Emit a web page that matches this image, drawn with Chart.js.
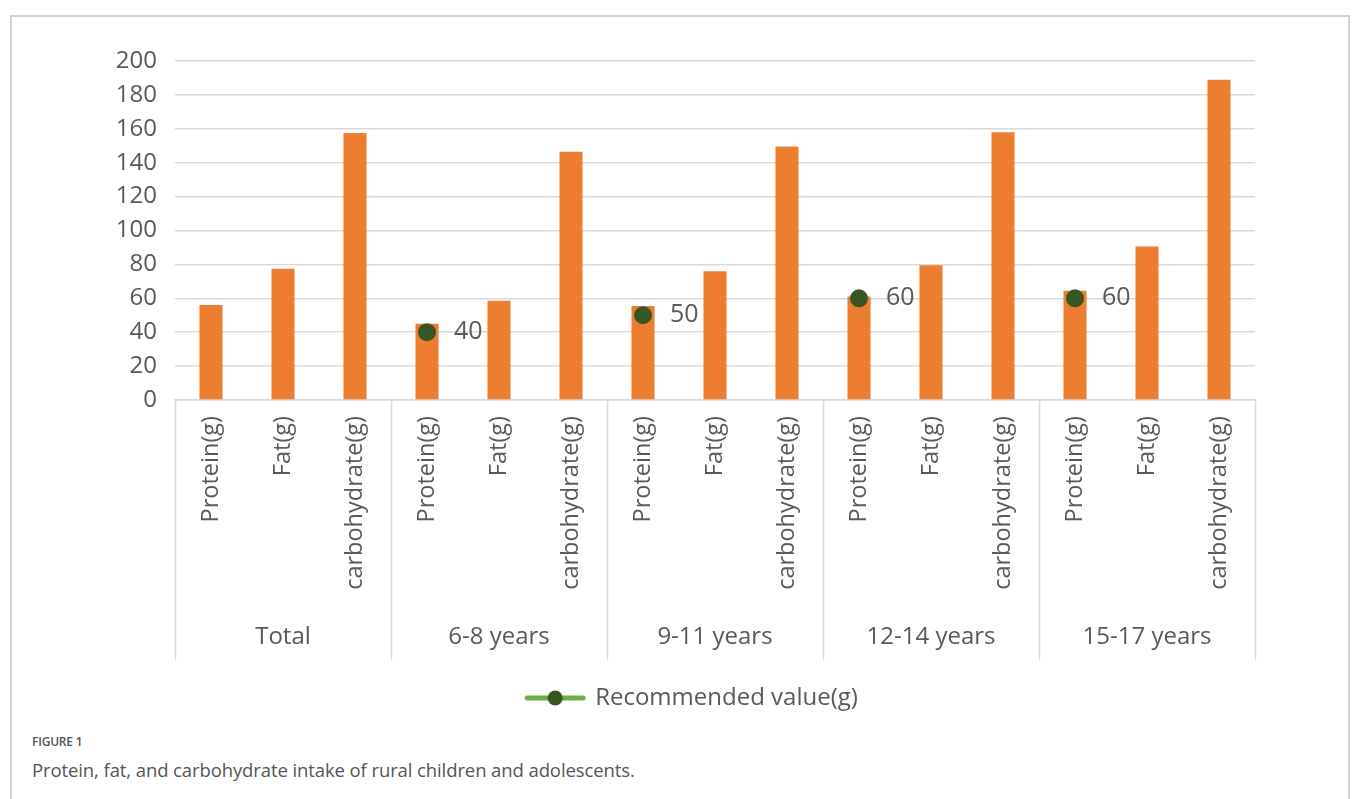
<!DOCTYPE html>
<html>
<head>
<meta charset="utf-8">
<script src="https://cdn.jsdelivr.net/npm/chart.js@4.4.1/dist/chart.umd.min.js"></script>
<style>
  body { margin: 0; background: #fff; font-family: "Open Sans", sans-serif; }
  #frame { position: absolute; left: 10px; top: 15px; width: 1336px; height: 820px; border: 2px solid #d0d0d0; }
  #chart { position: absolute; left: 0; top: 0; }
  #figno { position: absolute; left: 32px; top: 733px; font-size: 12px; font-weight: 600; color: #555; letter-spacing: -0.2px; }
  #caption { position: absolute; left: 32px; top: 757px; font-size: 18.5px; color: #555; letter-spacing: -0.1px; }
</style>
</head>
<body>
<div id="frame"></div>
<canvas id="chart" width="1358" height="730"></canvas>
<div id="figno">FIGURE 1</div>
<div id="caption">Protein, fat, and carbohydrate intake of rural children and adolescents.</div>
<script>
/* *****
datos del grafico
***** */
const groups = ['Total', '6-8 years', '9-11 years', '12-14 years', '15-17 years'];
const nutrients = ['Protein(g)', 'Fat(g)', 'carbohydrate(g)'];
const intake = [56, 77.5, 157.5, 45, 58.5, 146.5, 55.5, 76, 149.5, 61, 79.5, 158, 64.5, 90.5, 189];
const recommended = [null, null, null, 40, null, null, 50, null, null, 60, null, null, 60, null, null];
const yTicks = { min: 0, max: 200, step: 20 };

const labels = [];
groups.forEach(() => nutrients.forEach((n) => labels.push(n)));

const gray = '#595959';
const gridColor = '#d9d9d9';
const fontFamily = '"Open Sans", sans-serif';

// simbolo de la leyenda: linea verde con punto (desplazado a la derecha dentro del lienzo)
const legendIcon = document.createElement('canvas');
legendIcon.width = 200;
legendIcon.height = 18;
(() => {
    const c = legendIcon.getContext('2d');
    const cx = 165;
    c.strokeStyle = '#70AD47';
    c.lineWidth = 5;
    c.lineCap = 'round';
    c.beginPath();
    c.moveTo(cx - 28, 9);
    c.lineTo(cx + 28, 9);
    c.stroke();
    c.fillStyle = '#375623';
    c.beginPath();
    c.arc(cx, 9, 7.5, 0, Math.PI * 2);
    c.fill();
})();

// separadores y nombres de grupo bajo el eje x
const groupPlugin = {
    id: 'groupPlugin',
    afterDraw(chart) {
        const { ctx, chartArea } = chart;
        const x = chart.scales.x;
        const half = x.width / labels.length / 2;
        ctx.save();
        ctx.strokeStyle = gridColor;
        ctx.lineWidth = 1.5;
        for (let g = 0; g <= groups.length; g++) {
            const px = g < groups.length ? x.getPixelForValue(g * 3) - half : x.getPixelForValue(g * 3 - 1) + half;
            ctx.beginPath();
            ctx.moveTo(Math.round(px) + 0.5, chartArea.bottom);
            ctx.lineTo(Math.round(px) + 0.5, chartArea.bottom + 260);
            ctx.stroke();
        }
        ctx.fillStyle = gray;
        ctx.font = `24px ${fontFamily}`;
        ctx.textAlign = 'center';
        ctx.textBaseline = 'middle';
        groups.forEach((g, i) => {
            ctx.fillText(g, x.getPixelForValue(i * 3 + 1), chartArea.bottom + 237);
        });
        ctx.restore();
    }
};

// etiquetas de valor a la derecha de los puntos
const pointLabels = {
    id: 'pointLabels',
    afterDatasetsDraw(chart) {
        const { ctx } = chart;
        const meta = chart.getDatasetMeta(1);
        ctx.save();
        ctx.fillStyle = gray;
        ctx.font = `25px ${fontFamily}`;
        ctx.textAlign = 'left';
        ctx.textBaseline = 'middle';
        meta.data.forEach((pt, i) => {
            if (recommended[i] === null) return;
            ctx.fillText(recommended[i], pt.x + 27, pt.y);
        });
        ctx.restore();
    }
};

new Chart(document.getElementById('chart'), {
    type: 'bar',
    data: {
        labels: labels,
        datasets: [
            {
                label: 'Intake',
                data: intake,
                backgroundColor: '#ED7D31',
                categoryPercentage: 1,
                barPercentage: 0.32,
                order: 1
            },
            {
                type: 'line',
                label: 'Recommended value(g)',
                data: recommended,
                borderColor: '#70AD47',
                borderWidth: 4,
                spanGaps: false,
                pointRadius: 7,
                pointHoverRadius: 7,
                pointBackgroundColor: '#375623',
                pointBorderColor: '#375623',
                order: 0
            }
        ]
    },
    options: {
        responsive: false,
        animation: false,
        layout: { padding: { left: 0, top: 61, right: 103, bottom: 10 } },
        plugins: {
            tooltip: { enabled: false },
            legend: {
                position: 'bottom',
                labels: {
                    filter: (item) => item.datasetIndex === 1,
                    usePointStyle: true,
                    pointStyle: legendIcon,
                    pointStyleWidth: 186,
                    boxHeight: 16,
                    color: gray,
                    font: { family: fontFamily, size: 24 }
                }
            }
        },
        scales: {
            x: {
                grid: { display: false, drawTicks: false },
                border: { display: true, color: gridColor, width: 1.5 },
                ticks: {
                    autoSkip: false,
                    minRotation: 90,
                    maxRotation: 90,
                    padding: 16,
                    color: gray,
                    font: { family: fontFamily, size: 23.5 }
                },
                afterFit: (scale) => { scale.height = 276; }
            },
            y: {
                min: yTicks.min,
                max: yTicks.max,
                grid: { color: gridColor, lineWidth: 1.5, drawTicks: false },
                border: { display: false },
                ticks: {
                    stepSize: yTicks.step,
                    padding: 18,
                    color: gray,
                    font: { family: fontFamily, size: 24 }
                },
                afterFit: (scale) => { scale.width = 175; }
            }
        }
    },
    plugins: [groupPlugin, pointLabels]
});
</script>
</body>
</html>
